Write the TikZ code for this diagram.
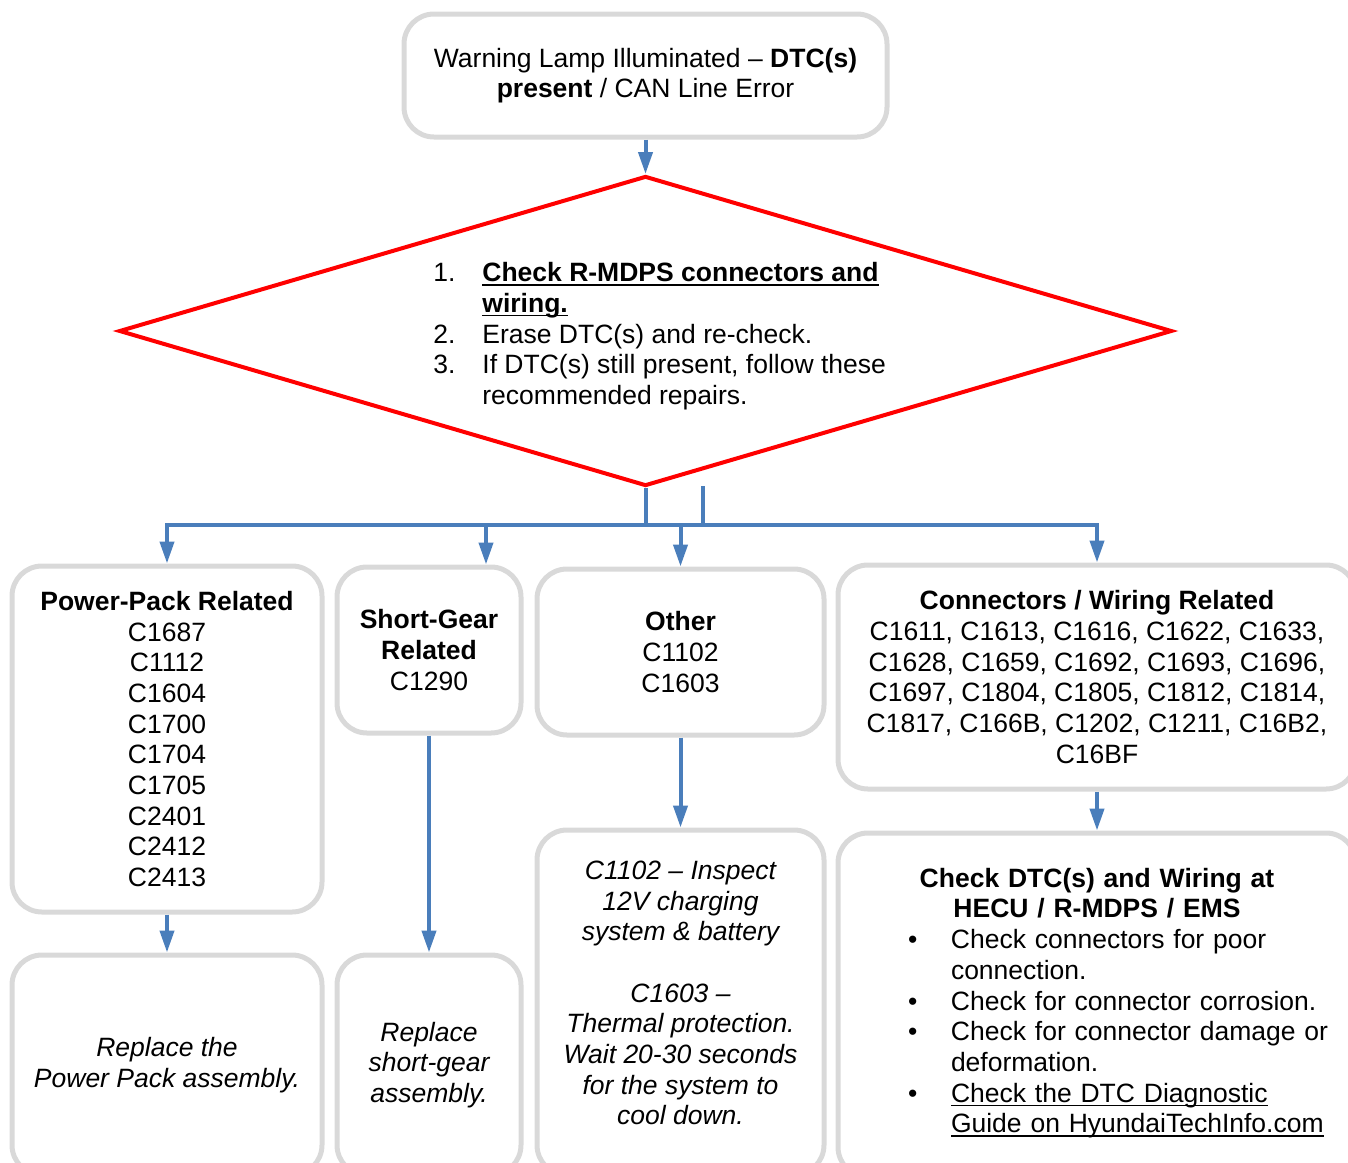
\documentclass[tikz,border=0pt]{standalone}
\usepackage{fontspec}
\setmainfont{Liberation Sans}
\usepackage{xcolor}
\usetikzlibrary{shapes.geometric, arrows.meta}
\definecolor{flowblue}{HTML}{4A7EBB}
\definecolor{boxgray}{HTML}{D9D9D9}
\newcommand{\boxfont}{\fontsize{13.25}{15.35}\selectfont}
% underline at a fixed depth, through the descenders
\newcommand{\ulfix}[1]{\leavevmode\setbox0\hbox{#1}\rlap{\rule[-1.9pt]{\wd0}{0.65pt}}\box0}
\tikzset{
    process/.style={rectangle, rounded corners=15pt, draw=boxgray, line width=2.5pt, align=center, inner sep=0pt, font=\boxfont},
    repair/.style={process, font=\boxfont\itshape},
    decision/.style={diamond, draw=red, line width=2pt, inner sep=0pt},
    arrow/.style={draw=flowblue, line width=2pt, -{Triangle[length=11pt, width=7pt]}},
    busline/.style={draw=flowblue, line width=2pt},
}

\begin{document}
\begin{tikzpicture}[x=0.5pt, y=-0.5pt, font=\boxfont]
  \useasboundingbox (0,0) rectangle (1348,1162);

  \node[process, minimum width=241.5pt, minimum height=61.5pt] (W) at (645.5,75.5)
    {Warning Lamp Illuminated – \textbf{DTC(s)}\\\textbf{present} / CAN Line Error};
  \node[decision, minimum width=526.5pt, minimum height=155pt] (D) at (645.5,331) {};
  \node[anchor=west, inner sep=0pt] (steps) at (433,337) {%
    \begin{tabular}{@{}p{24.5pt}@{}l@{}}
      1. & \ulfix{\textbf{Check R-MDPS connectors and}}\\
         & \ulfix{\textbf{wiring.}}\\
      2. & Erase DTC(s) and re-check.\\
      3. & If DTC(s) still present, follow these\\
         & recommended repairs.
    \end{tabular}};

  % DTC groups
  \node[process, minimum width=155pt, minimum height=173pt] (pp) at (167,739)
    {\textbf{Power-Pack Related}\\C1687\\C1112\\C1604\\C1700\\C1704\\C1705\\C2401\\C2412\\C2413};
  \node[process, minimum width=92pt, minimum height=83pt] (sg) at (429,650)
    {\textbf{Short-Gear}\\\textbf{Related}\\C1290};
  \node[process, minimum width=143.5pt, minimum height=83pt] (oth) at (680.5,652)
    {\textbf{Other}\\C1102\\C1603};
  \node[process, minimum width=259pt, minimum height=112pt] (cw) at (1097,677)
    {\textbf{Connectors / Wiring Related}\\C1611, C1613, C1616, C1622, C1633,\\C1628, C1659, C1692, C1693, C1696,\\C1697, C1804, C1805, C1812, C1814,\\C1817, C166B, C1202, C1211, C16B2,\\C16BF};

  % repairs
  \node[repair, minimum width=155pt, minimum height=110pt] (rpp) at (167,1065)
    {Replace the\\Power Pack assembly.};
  \node[repair, minimum width=92pt, minimum height=110pt] (rsg) at (429,1065)
    {Replace\\short-gear\\assembly.};
  \node[process, minimum width=143.5pt, minimum height=172.5pt] (oth2) at (680.5,1002.5) {};
  \node[align=center, inner sep=0pt, font=\boxfont\itshape] (oth2txt) at (680.5,993)
    {C1102 – Inspect\\12V charging\\system \& battery\\[15.35pt]C1603 –\\Thermal protection.\\Wait 20-30 seconds\\for the system to\\cool down.};
  \node[process, text width=229pt, minimum width=259pt, minimum height=172pt] (chk) at (1097,1005)
    {\textbf{Check DTC(s) and Wiring at}\\\textbf{HECU / R-MDPS / EMS}\\
     \makebox[229pt][l]{\begin{tabular}[t]{@{\hspace{20pt}}p{21.5pt}@{}l@{}}
       \textbullet & Check connectors for poor\\
                   & connection.\\
       \textbullet & Check for connector corrosion.\\
       \textbullet & Check for connector damage or\\
                   & deformation.\\
       \textbullet & \ulfix{Check the DTC Diagnostic}\\
                   & \ulfix{Guide on HyundaiTechInfo.com}
     \end{tabular}}};

  \coordinate (j) at (645.5,525);
  \coordinate (k) at (703,486);
  \coordinate (kb) at (703,525);

  \draw[arrow] (W) -- (D);
  \draw[busline] (D.south) -- (j);
  \draw[busline] (k) -- (kb);
  \draw[arrow] (j) -| (pp.north);
  \draw[arrow] (j) -| ([xshift=28.5pt]sg.north);
  \draw[arrow] (j) -| (oth.north);
  \draw[arrow] (j) -| (cw.north);

  \draw[arrow] (pp) -- (rpp);
  \draw[arrow] (sg) -- (rsg);
  \draw[arrow] (oth) -- (oth2);
  \draw[arrow] (cw) -- (chk);
\end{tikzpicture}
\end{document}
